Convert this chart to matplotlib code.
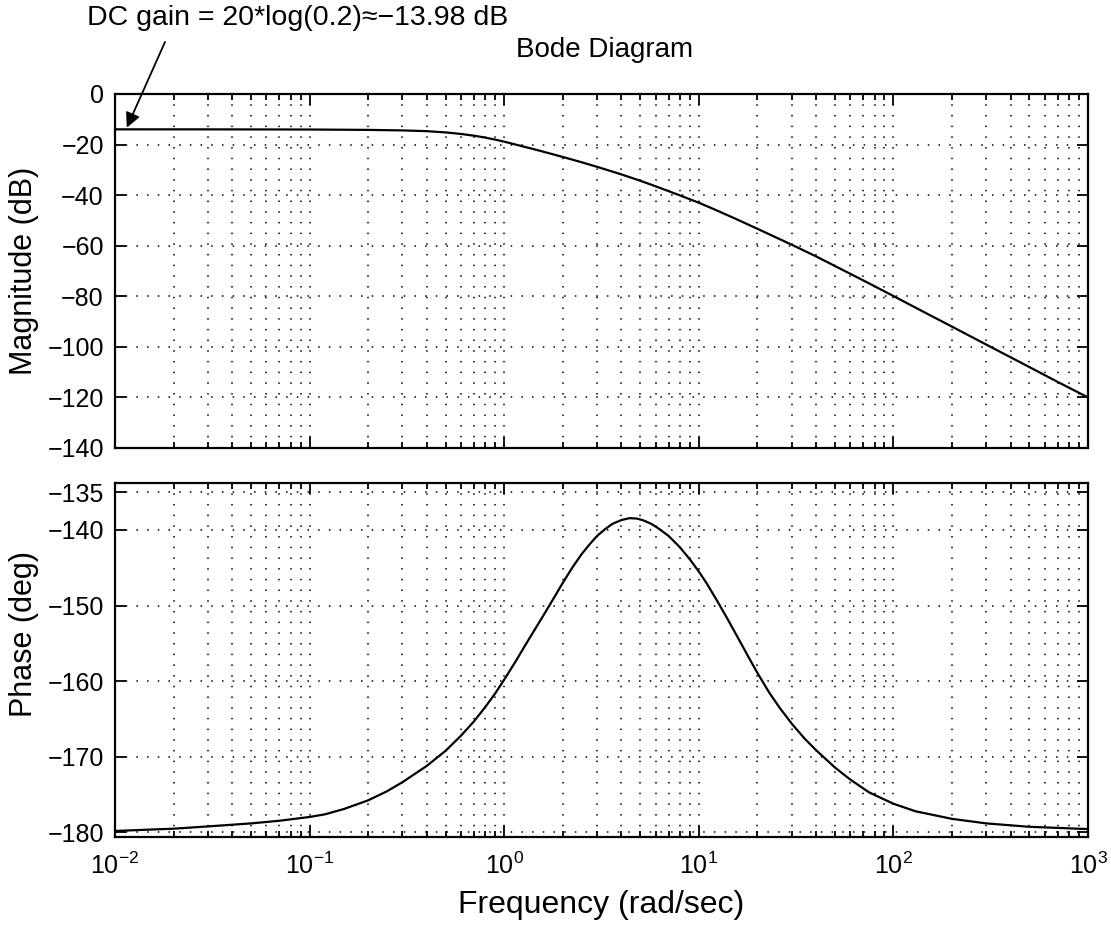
import matplotlib
matplotlib.use("Agg")
import matplotlib.pyplot as plt
from matplotlib.ticker import LogLocator, NullFormatter

plt.rcParams['font.family'] = ['Liberation Sans', 'DejaVu Sans']
plt.rcParams['mathtext.fontset'] = 'custom'
plt.rcParams['mathtext.rm'] = 'Liberation Sans'
plt.rcParams['mathtext.it'] = 'Liberation Sans:italic'
plt.rcParams['mathtext.bf'] = 'Liberation Sans:bold'

# values
mag_freq = [0.01, 0.03, 0.1, 0.2, 0.3, 0.4, 0.5, 0.6, 0.7, 0.8, 0.9, 1.0, 1.2,
            1.5, 2.0, 2.5, 3.0, 4.0, 5.0, 6.0, 8.0, 10, 12, 15, 20, 30, 40, 50,
            75, 100, 150, 200, 300, 500, 700, 1000]
mag_db = [-13.98, -13.99, -14.05, -14.2, -14.4, -14.7, -15.2, -15.8, -16.5,
          -17.25, -18.05, -18.85, -20.4, -22.3, -24.9, -27.0, -28.8, -31.8,
          -34.3, -36.5, -40.1, -43.0, -45.6, -48.9, -53.3, -59.6, -64.2, -68.0,
          -74.9, -79.9, -87.0, -92.0, -99.1, -108.0, -113.9, -120.0]

phase_freq = [0.01, 0.02, 0.03, 0.05, 0.07, 0.1, 0.12, 0.15, 0.2, 0.25, 0.3,
              0.4, 0.5, 0.6, 0.7, 0.8, 0.9, 1.0, 1.15, 1.3, 1.45, 1.6, 1.8, 2.0,
              2.25, 2.5, 2.75, 3.0, 3.3, 3.6, 4.0, 4.4, 4.8, 5.2, 5.7, 6.2, 7.0,
              8.0, 9.0, 10, 11, 12.5, 14, 16, 18, 20, 23, 26, 30, 35, 40, 50,
              60, 75, 100, 130, 200, 300, 500, 1000]
phase_deg = [-179.8, -179.5, -179.2, -178.8, -178.45, -177.95, -177.6, -176.9,
             -175.75, -174.55, -173.35, -171.2, -169.2, -167.2, -165.3, -163.4,
             -161.6, -159.8, -157.3, -155.0, -153.0, -151.2, -149.0, -147.0,
             -144.9, -143.2, -141.9, -140.8, -139.9, -139.2, -138.7, -138.45,
             -138.5, -138.75, -139.2, -139.8, -140.8, -142.3, -143.9, -145.5,
             -147.1, -149.5, -151.7, -154.4, -156.8, -158.9, -161.5, -163.5,
             -165.6, -167.6, -169.1, -171.4, -173.0, -174.7, -176.2, -177.2,
             -178.2, -178.8, -179.25, -179.55]

mag_ticks = [0, -20, -40, -60, -80, -100, -120, -140]
phase_ticks = [-135, -140, -150, -160, -170, -180]

fig = plt.figure(figsize=(11.11, 9.26), dpi=100)
ax_mag = fig.add_axes([0.1035, 0.5162, 0.8758, 0.3823])
ax_ph = fig.add_axes([0.1035, 0.0961, 0.8758, 0.3823])

grid_style = dict(color='black', linestyle=(0, (1, 6)), linewidth=1.1)

for ax in (ax_mag, ax_ph):
    ax.set_xscale('log')
    ax.set_xlim(1e-2, 1e3)
    ax.xaxis.set_major_locator(LogLocator(base=10, numticks=10))
    ax.xaxis.set_minor_locator(LogLocator(base=10, subs=range(2, 10), numticks=20))
    ax.xaxis.set_minor_formatter(NullFormatter())
    ax.tick_params(which='both', direction='in', top=True, right=True,
                   labelsize=18, width=1.3)
    ax.tick_params(which='major', length=8, pad=8)
    ax.tick_params(which='minor', length=4)
    ax.tick_params(axis='x', which='major', pad=11)
    ax.grid(True, which='major', axis='both', **grid_style)
    ax.grid(True, which='minor', axis='x', **grid_style)
    for s in ax.spines.values():
        s.set_linewidth(1.6)

ax_mag.plot(mag_freq, mag_db, color='black', linewidth=1.6)
ax_mag.set_ylim(-140, 0)
ax_mag.set_yticks(mag_ticks)
ax_mag.tick_params(labelbottom=False)
ax_mag.set_ylabel('Magnitude (dB)', fontsize=22)
ax_mag.yaxis.set_label_coords(-0.078, 0.5)

ax_ph.plot(phase_freq, phase_deg, color='black', linewidth=1.6)
ax_ph.set_ylim(-180.6, -133.8)
ax_ph.set_yticks(phase_ticks)
ax_ph.set_ylabel('Phase (deg)', fontsize=22)
ax_ph.yaxis.set_label_coords(-0.078, 0.573)
ax_ph.set_xlabel('Frequency (rad/sec)', fontsize=23, labelpad=8)

fig.text(0.5445, 1 - 50 / 926, 'Bode Diagram', fontsize=20, ha='center', va='center')
fig.text(87 / 1111, 1 - 18 / 926, 'DC gain = 20*log(0.2)\u2248\u221213.98 dB',
         fontsize=20.5, ha='left', va='center')
ax_mag.annotate('', xy=(0.0115, -13.3), xytext=(165, 926 - 42),
                textcoords='figure pixels',
                arrowprops=dict(arrowstyle='-|>', color='black', lw=1.3,
                                mutation_scale=22, shrinkA=0, shrinkB=0))

fig.savefig('out.png', dpi=100)
